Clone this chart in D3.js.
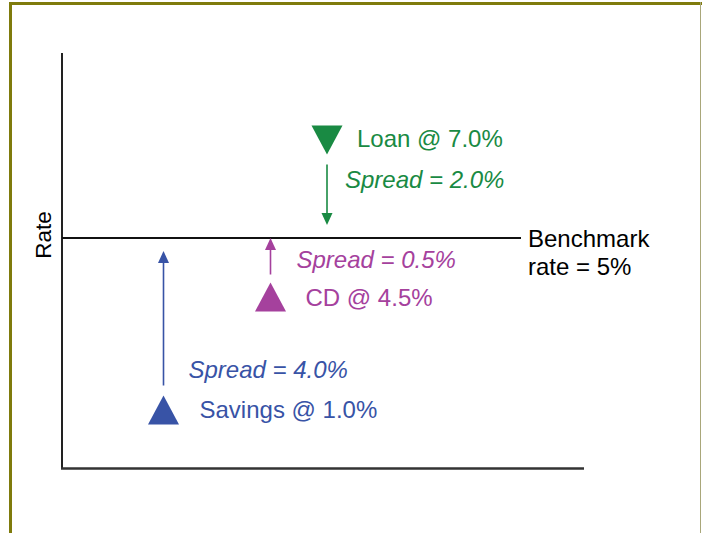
<!DOCTYPE html>
<html>
<head>
<meta charset="utf-8">
<script src="https://cdn.jsdelivr.net/npm/d3@7"></script>
<style>
  body { margin: 0; background: #fff; }
  text { font-family: "Liberation Sans", Arial, sans-serif; }
</style>
</head>
<body>
<div id="chart"></div>
<script>
// data
var products = ["Savings", "CD", "Loan"]
var rates = [1.0, 4.5, 7.0]
var spreads = [4.0, 0.5, 2.0]
var benchmark = 5
var colors = ["#3853a6", "#a5419d", "#198a43"]

var width = 702,
    height = 533

var svg = d3.select("#chart")
  .append("svg")
    .attr("width", width)
    .attr("height", height)
    .style("background-color", "white")

// frame
svg.append("line").attr("x1", 9).attr("x2", 702).attr("y1", 3.5).attr("y2", 3.5)
  .attr("stroke", "#7f7b0c").attr("stroke-width", 3)
svg.append("line").attr("x1", 10.5).attr("x2", 10.5).attr("y1", 2).attr("y2", height)
  .attr("stroke", "#7f7b0c").attr("stroke-width", 3)
svg.append("line").attr("x1", 700.5).attr("x2", 700.5).attr("y1", 2).attr("y2", height)
  .attr("stroke", "#a9a77a").attr("stroke-width", 1)

// schematic scales (not to scale, like the original)
var y = d3.scaleLinear().domain([1, 4.5, 5, 7]).range([410, 297, 238, 140])
var x = d3.scaleOrdinal().domain(products).range([163.5, 270.5, 327])

var fs = "24px"

// axes
svg.append("line").attr("x1", 62).attr("x2", 62).attr("y1", 53).attr("y2", 469)
  .attr("stroke", "#222").attr("stroke-width", 2)
svg.append("line").attr("x1", 61).attr("x2", 584).attr("y1", 468.5).attr("y2", 468.5)
  .attr("stroke", "#333").attr("stroke-width", 2.5)

svg.append("text")
  .attr("transform", "translate(51," + (y(benchmark) - 3) + ") rotate(-90)")
  .attr("text-anchor", "middle")
  .style("font-size", "22.5px")
  .text("Rate")

// benchmark line
svg.append("line").attr("x1", 62).attr("x2", 521).attr("y1", y(benchmark)).attr("y2", y(benchmark))
  .attr("stroke", "#111").attr("stroke-width", 1.8)
svg.append("text").attr("x", 528).attr("y", y(benchmark) + 9)
  .style("font-size", fs).text("Benchmark")
svg.append("text").attr("x", 528).attr("y", y(benchmark) + 37)
  .style("font-size", fs).text("rate = " + benchmark + "%")

// label / arrow offsets per product
var style = {
  Savings: { lab: [36, 8], spr: [25, -32], startGap: 10, endGap: 13 },
  CD:      { lab: [35, 9], spr: [26, -29], startGap: 8, endGap: 0 },
  Loan:    { lab: [30, 7], spr: [18, 48], startGap: 10, endGap: 13 }
}

var tw = 31, th = 29

var data = products.map(function(p, i) {
  return { name: p, rate: rates[i], spread: spreads[i], color: colors[i] }
})

var g = svg.selectAll(".prod")
  .data(data)
  .enter()
  .append("g")
  .attr("class", "prod")

g.each(function(d) {
  var sel = d3.select(this)
  var cx = x(d.name), cy = y(d.rate), s = style[d.name]
  var up = d.rate < benchmark
  var pts = up
    ? [[cx - tw / 2, cy + th / 2], [cx + tw / 2, cy + th / 2], [cx, cy - th / 2]]
    : [[cx - tw / 2, cy - th / 2], [cx + tw / 2, cy - th / 2], [cx, cy + th / 2]]
  sel.append("path")
    .attr("d", d3.line()(pts) + "Z")
    .attr("fill", d.color)

  // arrow to benchmark
  var dir = up ? -1 : 1
  var y0 = cy + dir * (th / 2 + s.startGap)
  var y1 = y(benchmark) - dir * s.endGap
  var headLen = 12, headW = 11
  sel.append("line")
    .attr("x1", cx).attr("x2", cx)
    .attr("y1", y0).attr("y2", y1 - dir * headLen)
    .attr("stroke", d.color).attr("stroke-width", 1.6)
  sel.append("path")
    .attr("d", d3.line()([[cx - headW / 2, y1 - dir * headLen], [cx + headW / 2, y1 - dir * headLen], [cx, y1]]) + "Z")
    .attr("fill", d.color)

  sel.append("text")
    .attr("x", cx + s.lab[0]).attr("y", cy + s.lab[1])
    .attr("fill", d.color)
    .style("font-size", fs)
    .text(d.name + " @ " + d.rate.toFixed(1) + "%")
  sel.append("text")
    .attr("x", cx + s.spr[0]).attr("y", cy + s.spr[1])
    .attr("fill", d.color)
    .style("font-size", fs)
    .style("font-style", "italic")
    .text("Spread = " + d.spread.toFixed(1) + "%")
})
</script>
</body>
</html>
